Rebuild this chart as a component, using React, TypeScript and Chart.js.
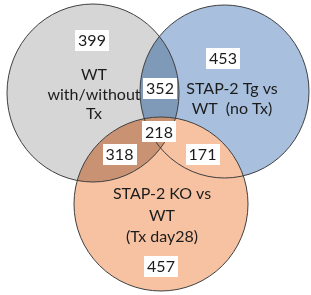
import React, { useEffect, useRef } from "react";
import { Chart, registerables } from "chart.js";

Chart.register(...registerables);

// ---- data ----
const setNameLines: string[][] = [
  ["WT", "with/without", "Tx"],
  ["STAP-2 Tg vs", "WT  (no Tx)"],
  ["STAP-2 KO vs", "WT", "(Tx day28)"],
];
// regions: only A, only B, only C, A∩B, A∩C, B∩C, A∩B∩C
const regionKeys = ["A", "B", "C", "AB", "AC", "BC", "ABC"];
const regionCounts = [399, 453, 457, 352, 318, 171, 218];

// ---- layout (hidden axes, data units) ----
const circleCenterX = [93, 224.5, 161];
const circleCenterY = [93, 91.5, 204];
const circleRadiusX = [86, 84.5, 87];
const circleRadiusY = [89, 86.5, 87];
const circleFill = ["#d6d6d6", "#a8c0de", "#f6c2a2"];
const lensAB = "#7f99b9";
const lensAC = "#c99373";
const strokeColor = "#3f3f3f";

const regionLabelX = [92, 223, 161, 160, 119.5, 202.5, 159];
const regionLabelY = [40, 58, 266, 88, 154, 154, 131.5];
const nameX = [94, 232, 162];
const nameBaseY = [80, 94, 199];
const nameLineGap = [19.5, 20, 21.5];

const FONT = "16px Lato, 'Open Sans', sans-serif";

const vennPlugin = {
  id: "venn",
  afterDatasetsDraw(chart: any) {
    const ctx: CanvasRenderingContext2D = chart.ctx;
    const xs = chart.scales.x;
    const ys = chart.scales.y;
    const meta = chart.getDatasetMeta(0);
    const geo = meta.data.map((pt: any, i: number) => ({
      x: pt.x,
      y: pt.y,
      rx: Math.abs(xs.getPixelForValue(circleCenterX[i] + circleRadiusX[i]) - pt.x),
      ry: Math.abs(ys.getPixelForValue(circleCenterY[i] + circleRadiusY[i]) - pt.y),
    }));
    const path = (i: number) => {
      const g = geo[i];
      ctx.beginPath();
      ctx.ellipse(g.x, g.y, g.rx, g.ry, 0, 0, Math.PI * 2);
    };
    ctx.save();
    // gray
    path(0); ctx.fillStyle = circleFill[0]; ctx.fill();
    // blue
    path(1); ctx.fillStyle = circleFill[1]; ctx.fill();
    // lens gray∩blue
    ctx.save(); path(0); ctx.clip(); path(1); ctx.fillStyle = lensAB; ctx.fill(); ctx.restore();
    // orange
    path(2); ctx.fillStyle = circleFill[2]; ctx.fill();
    // lens gray∩orange
    ctx.save(); path(0); ctx.clip(); path(2); ctx.fillStyle = lensAC; ctx.fill(); ctx.restore();
    // strokes
    ctx.lineWidth = 1;
    ctx.strokeStyle = strokeColor;
    for (let i = 0; i < 3; i++) { path(i); ctx.stroke(); }

    // set names
    ctx.font = FONT;
    ctx.fillStyle = "#1c1c1c";
    ctx.textAlign = "center";
    ctx.textBaseline = "alphabetic";
    setNameLines.forEach((lines, i) => {
      const px = xs.getPixelForValue(nameX[i]);
      lines.forEach((ln, j) => {
        const py = ys.getPixelForValue(nameBaseY[i] + j * nameLineGap[i]);
        ctx.fillText(ln, px, py);
      });
    });

    // region counts in white boxes
    regionKeys.forEach((_k, i) => {
      const txt = String(regionCounts[i]);
      const px = xs.getPixelForValue(regionLabelX[i]);
      const py = ys.getPixelForValue(regionLabelY[i]);
      const w = ctx.measureText(txt).width + 6;
      const h = 21;
      ctx.fillStyle = "#ffffff";
      ctx.fillRect(Math.round(px - w / 2), Math.round(py - h / 2), Math.round(w), h);
      ctx.fillStyle = "#1c1c1c";
      ctx.textBaseline = "middle";
      ctx.fillText(txt, px, py + 1);
    });
    ctx.restore();
  },
};

export default function App() {
  const ref = useRef<HTMLCanvasElement | null>(null);
  useEffect(() => {
    if (!ref.current) return;
    const chart = new Chart(ref.current, {
      type: "scatter",
      data: {
        datasets: [
          {
            label: "sets",
            data: circleCenterX.map((x, i) => ({ x, y: circleCenterY[i] })),
            pointRadius: 0,
            pointHoverRadius: 0,
          },
        ],
      },
      options: {
        animation: false,
        responsive: false,
        events: [],
        layout: { padding: 0 },
        plugins: { legend: { display: false }, tooltip: { enabled: false } },
        scales: {
          x: { type: "linear", min: 0, max: 311, display: false },
          y: { type: "linear", min: 0, max: 295, reverse: true, display: false },
        },
      },
      plugins: [vennPlugin],
    });
    return () => chart.destroy();
  }, []);
  return (
    <div style={{ position: "fixed", left: 0, top: 0, width: 311, height: 295, background: "#fff" }}>
      <canvas ref={ref} width={311} height={295} />
    </div>
  );
}
